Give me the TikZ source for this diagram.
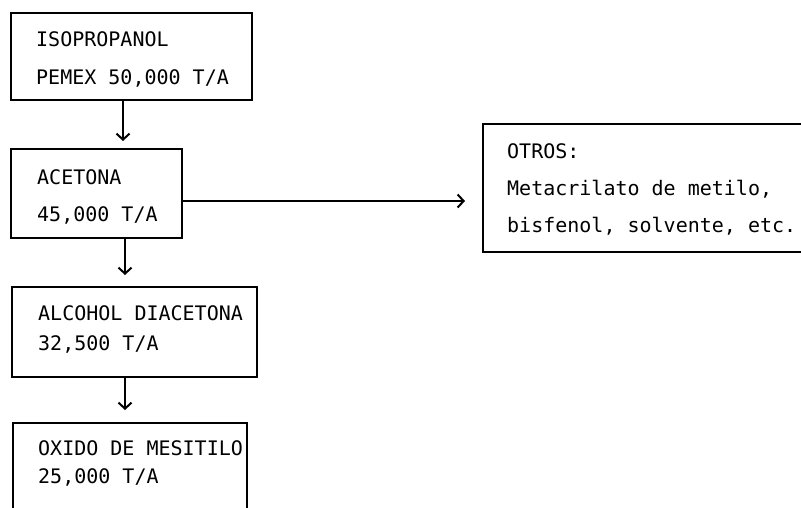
\documentclass[tikz,border=0pt]{standalone}
\usepackage{fontspec}
\setmainfont{DejaVu Sans Mono}
\usetikzlibrary{arrows.meta}
\begin{document}
\begin{tikzpicture}[x=1pt,y=-1pt,
  box/.style={draw, line width=1.3pt, inner sep=0pt},
  lbl/.style={anchor=base west, inner sep=0pt, font=\fontsize{20}{24}\selectfont},
  arr/.style={line width=1.4pt, -{Straight Barb[length=6pt,width=13pt,line width=2pt]}}]
\useasboundingbox (0,0) rectangle (801,507);
\clip (0,0) rectangle (801,507);

% process boxes
\node[box, minimum width=241pt, minimum height=87pt]  (iso) at (131.5,56.5) {};
\node[box, minimum width=171pt, minimum height=89pt]  (ace) at (96.5,193.5) {};
\node[box, minimum width=245pt, minimum height=90pt]  (alc) at (134.5,332) {};
\node[box, minimum width=234pt, minimum height=117pt] (oxi) at (130,481.5) {};
\node[box, minimum width=347pt, minimum height=128pt] (otr) at (656.5,188) {};

% box texts
\node[lbl] (iso1) at (36,46)  {ISOPROPANOL};
\node[lbl] (iso2) at (36,84)  {PEMEX 50,000 T/A};
\node[lbl] (ace1) at (37,184) {ACETONA};
\node[lbl] (ace2) at (37,221) {45,000 T/A};
\node[lbl] (alc1) at (38,320) {ALCOHOL DIACETONA};
\node[lbl] (alc2) at (38,350) {32,500 T/A};
\node[lbl] (oxi1) at (38,455) {OXIDO DE MESITILO};
\node[lbl] (oxi2) at (38,483) {25,000 T/A};
\node[lbl] (otr1) at (507,158) {OTROS:};
\node[lbl] (otr2) at (507,195) {Metacrilato de metilo,};
\node[lbl] (otr3) at (507,232) {bisfenol, solvente, etc.};

% arrow ends
\coordinate (t1) at (123,141);
\coordinate (t2) at (125,275);
\coordinate (t3) at (125,410);
\coordinate (t4) at (465,201);

% flow arrows
\draw[arr] (iso.south -| t1) -- (t1);
\draw[arr] (ace.south -| t2) -- (t2);
\draw[arr] (alc.south -| t3) -- (t3);
\draw[arr] (ace.east |- t4) -- (t4);
\end{tikzpicture}
\end{document}
